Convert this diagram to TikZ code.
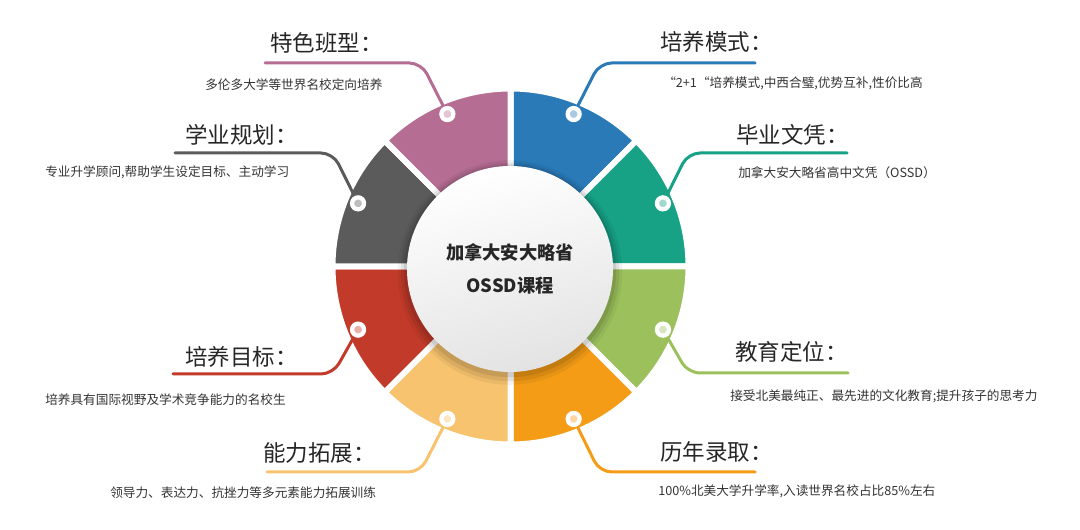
\documentclass[tikz,border=0pt]{standalone}
\usepackage{fontspec}
\setmainfont{Noto Sans CJK SC}
\usepackage{tikz}
\usetikzlibrary{calc, shadows}

\definecolor{segblue}{HTML}{2A7AB8}
\definecolor{segteal}{HTML}{17A185}
\definecolor{seggreen}{HTML}{9CC15C}
\definecolor{segorange}{HTML}{F49C16}
\definecolor{segsand}{HTML}{F7C36E}
\definecolor{segred}{HTML}{C23B2A}
\definecolor{seggray}{HTML}{5B5B5B}
\definecolor{segpink}{HTML}{B56D93}

\begin{document}
\begin{tikzpicture}[
    x=0.025cm, y=0.025cm,
    seg/.style={draw=white, line width=0.15cm},
    lead/.style={line width=0.075cm, rounded corners=0.3cm, line cap=round},
    dot/.style={circle, draw=white, line width=3pt, minimum size=0.3cm, inner sep=0},
    hub/.style={circle, minimum size=5.15cm, top color=white, bottom color=gray!22, shading angle=15,
        drop shadow={shadow scale=1.09, shadow xshift=0, shadow yshift=-0.08cm, opacity=0.05, fill=black},
        drop shadow={shadow scale=1.06, shadow xshift=0, shadow yshift=-0.07cm, opacity=0.07, fill=black},
        drop shadow={shadow scale=1.03, shadow xshift=0, shadow yshift=-0.05cm, opacity=0.09, fill=black},
        align=center, font=\bfseries\fontsize{13}{23}\selectfont, text=black!85},
    title/.style={anchor=west, inner sep=0, font=\fontsize{16}{18}\selectfont, text=black!85},
    desc/.style={anchor=west, inner sep=0, font=\fontsize{9}{11}\selectfont, text=black!80}
]
    \useasboundingbox (0,0) rectangle (1080,-530);

    % ring of eight segments
    \begin{scope}[shift={(510.5,-266.5)}]
        \filldraw[seg, fill=segblue] (45:178) arc[start angle=45, end angle=90, radius=178] -- (90:95) arc[start angle=90, end angle=45, radius=95] -- cycle;
        \filldraw[seg, fill=segteal] (0:178) arc[start angle=0, end angle=45, radius=178] -- (45:95) arc[start angle=45, end angle=0, radius=95] -- cycle;
        \filldraw[seg, fill=seggreen] (-45:178) arc[start angle=-45, end angle=0, radius=178] -- (0:95) arc[start angle=0, end angle=-45, radius=95] -- cycle;
        \filldraw[seg, fill=segorange] (-90:178) arc[start angle=-90, end angle=-45, radius=178] -- (-45:95) arc[start angle=-45, end angle=-90, radius=95] -- cycle;
        \filldraw[seg, fill=segsand] (-135:178) arc[start angle=-135, end angle=-90, radius=178] -- (-90:95) arc[start angle=-90, end angle=-135, radius=95] -- cycle;
        \filldraw[seg, fill=segred] (180:178) arc[start angle=180, end angle=225, radius=178] -- (225:95) arc[start angle=225, end angle=180, radius=95] -- cycle;
        \filldraw[seg, fill=seggray] (135:178) arc[start angle=135, end angle=180, radius=178] -- (180:95) arc[start angle=180, end angle=135, radius=95] -- cycle;
        \filldraw[seg, fill=segpink] (90:178) arc[start angle=90, end angle=135, radius=178] -- (135:95) arc[start angle=135, end angle=90, radius=95] -- cycle;

        \coordinate (p1) at (67.5:165);
        \coordinate (p2) at (22.5:165);
        \coordinate (p3) at (-22.5:165);
        \coordinate (p4) at (-67.5:165);
        \coordinate (p5) at (-112.5:165);
        \coordinate (p6) at (-157.5:165);
        \coordinate (p7) at (157.5:165);
        \coordinate (p8) at (112.5:165);
    \end{scope}

    \node[hub] (hub) at (510,-269) {加拿大安大略省\\OSSD课程};

    % ends of the leader lines
    \coordinate (e1) at (755,-63);
    \coordinate (e2) at (847,-153);
    \coordinate (e3) at (848,-373);
    \coordinate (e4) at (755,-472);
    \coordinate (e5) at (267,-472);
    \coordinate (e6) at (173,-374);
    \coordinate (e7) at (175,-153);
    \coordinate (e8) at (265,-63);

    \draw[lead, segblue] (p1) -- ($(p1 |- e1)+(26,0)$) -- (e1);
    \draw[lead, segteal] (p2) -- ($(p2 |- e2)+(25,0)$) -- (e2);
    \draw[lead, seggreen] (p3) -- ($(p3 |- e3)+(25,0)$) -- (e3);
    \draw[lead, segorange] (p4) -- ($(p4 |- e4)+(26,0)$) -- (e4);
    \draw[lead, segsand] (p5) -- ($(p5 |- e5)+(-27,0)$) -- (e5);
    \draw[lead, segred] (p6) -- ($(p6 |- e6)+(-25,0)$) -- (e6);
    \draw[lead, seggray] (p7) -- ($(p7 |- e7)+(-25,0)$) -- (e7);
    \draw[lead, segpink] (p8) -- ($(p8 |- e8)+(-26,0)$) -- (e8);

    \node[dot, fill=segblue!40!white] (d1) at (p1) {};
    \node[dot, fill=segteal!40!white] (d2) at (p2) {};
    \node[dot, fill=seggreen!40!white] (d3) at (p3) {};
    \node[dot, fill=segorange!40!white] (d4) at (p4) {};
    \node[dot, fill=segsand!40!white] (d5) at (p5) {};
    \node[dot, fill=segred!40!white] (d6) at (p6) {};
    \node[dot, fill=seggray!40!white] (d7) at (p7) {};
    \node[dot, fill=segpink!40!white] (d8) at (p8) {};

    % titles and descriptions
    \node[title] (t1) at (660,-42) {培养模式：};
    \node[desc] (x1) at (663,-83) {“2+1“培养模式,中西合璧,优势互补,性价比高};
    \node[title] (t2) at (736,-135) {毕业文凭：};
    \node[desc] (x2) at (738,-173) {加拿大安大略省高中文凭（OSSD）};
    \node[title] (t3) at (735,-352) {教育定位：};
    \node[desc] (x3) at (730,-396) {接受北美最纯正、最先进的文化教育;提升孩子的思考力};
    \node[title] (t4) at (660,-452) {历年录取：};
    \node[desc] (x4) at (658,-491) {100\%北美大学升学率,入读世界名校占比85\%左右};
    \node[title] (t5) at (263,-453) {能力拓展：};
    \node[desc] (x5) at (110,-493) {领导力、表达力、抗挫力等多元素能力拓展训练};
    \node[title] (t6) at (185,-357) {培养目标：};
    \node[desc] (x6) at (45,-400) {培养具有国际视野及学术竞争能力的名校生};
    \node[title] (t7) at (185,-135) {学业规划：};
    \node[desc] (x7) at (45,-172) {专业升学顾问,帮助学生设定目标、主动学习};
    \node[title] (t8) at (270,-43) {特色班型：};
    \node[desc] (x8) at (205,-85) {多伦多大学等世界名校定向培养};
\end{tikzpicture}
\end{document}
